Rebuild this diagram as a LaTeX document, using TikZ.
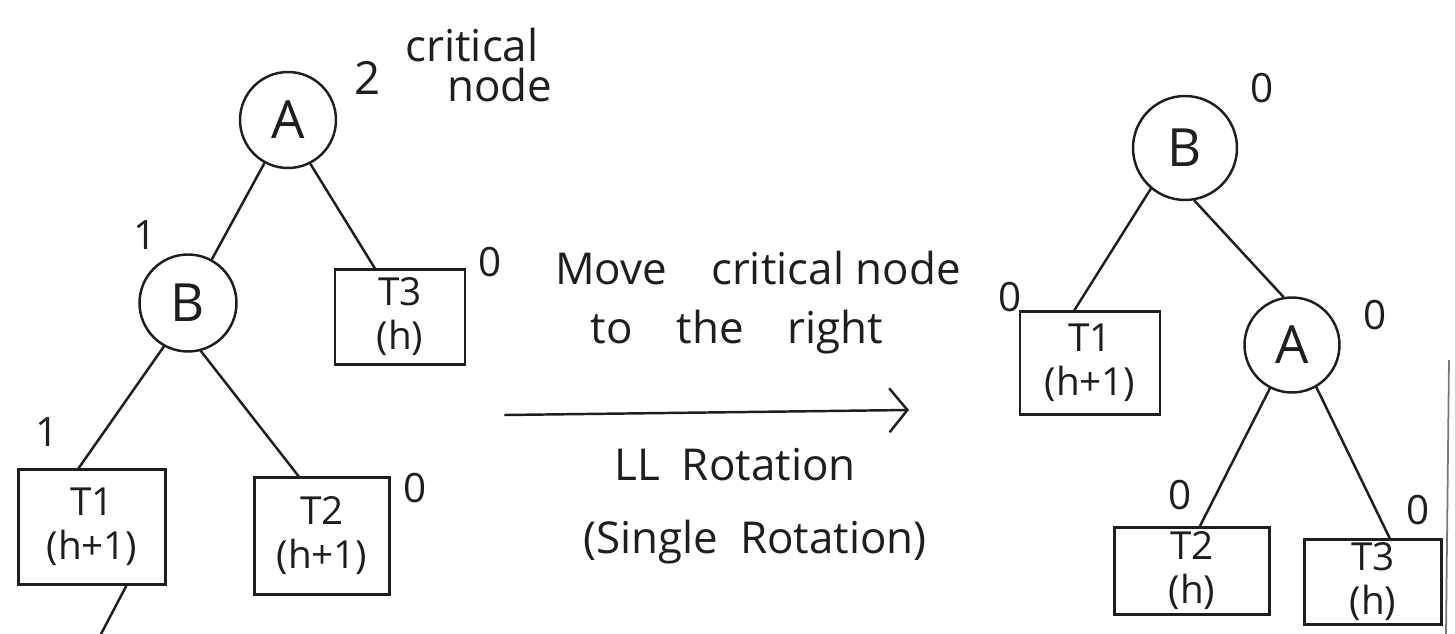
\documentclass[tikz,border=0pt]{standalone}
\usepackage{fontspec}
\setmainfont{Open Sans}
\usetikzlibrary{calc,arrows.meta}
\definecolor{ink}{HTML}{1E1E1E}
\tikzset{
  ink/.style={draw=ink, line width=1.4pt},
  circ/.style={ink, circle, inner sep=0pt, font=\fontsize{30}{32}\selectfont, text=ink},
  tbox/.style={ink, rectangle, inner sep=0pt, align=center, text=ink,
    font=\fontsize{22}{25}\selectfont},
  lbl/.style={inner sep=0pt, text=ink, font=\fontsize{23}{26}\selectfont},
  note/.style={inner sep=0pt, text=ink, align=center, font=\fontsize{25}{30}\selectfont},
  edge/.style={ink, line cap=round},
}
\begin{document}
\begin{tikzpicture}[x=0.02cm, y=-0.02cm]
\useasboundingbox[fill=white] (0,0) rectangle (1455,634);

% ---- left tree ----
\node[circ, minimum size=1.92cm] (A) at (288,120) {A};
\node[circ, minimum size=1.94cm] (B) at (188,303) {B};
\node[tbox, minimum width=2.6cm, minimum height=1.9cm] (T3) at (400,317) {T3\\(h)};
\node[tbox, minimum width=2.94cm, minimum height=2.3cm] (T1) at (92,527) {T1\\(h+1)};
\node[tbox, minimum width=2.7cm, minimum height=2.34cm] (T2) at (322,536) {T2\\(h+1)};

\draw[edge] (A) -- (B);
\draw[edge] (A.297) -- ($(T3.north west)!0.31!(T3.north east)$);
\draw[edge] (B.241) -- ($(T1.north west)!0.41!(T1.north east)$);
\draw[edge] (B.285) -- ($(T2.north west)!0.33!(T2.north east)$);
\coordinate (tailend) at (101,634);
\draw[edge] ($(T1.south west)!0.73!(T1.south east)$) -- (tailend);

\node[lbl, font=\fontsize{26}{30}\selectfont] (two) at (368,78) {2};
\node[note] (crit1) at (472,45) {critical};
\node[note] (crit2) at (500,85) {node};
\node[lbl] (oneB) at (145,235) {1};
\node[lbl] (oneT1) at (47,432) {1};
\node[lbl] (zT3) at (490,262) {0};
\node[lbl] (zT2) at (415,488) {0};

% ---- middle ----
\node[note] (mv1) at (758,268) {Move\quad critical node};
\node[note] (mv2) at (737,332) {to\quad the\quad right};
\coordinate (arrs) at (505,415);
\coordinate (arre) at (909,410);
\draw[edge, -{Straight Barb[length=3.6mm, width=8.8mm, line width=1.4pt]}] (arrs) -- (arre);
\node[note] (ll) at (735,465) {LL\enspace Rotation};
\node[note] (single) at (755,542) {(Single\enspace Rotation)};

% ---- right tree ----
\node[circ, minimum size=2.08cm] (RB) at (1185,148) {B};
\node[circ, minimum size=1.9cm] (RA) at (1292,345) {A};
\node[tbox, minimum width=2.8cm, minimum height=2.06cm] (RT1) at (1090,363) {T1\\(h+1)};
\node[tbox, minimum width=3.1cm, minimum height=1.74cm] (RT2) at (1192,571) {T2\\(h)};
\node[tbox, minimum width=2.74cm, minimum height=1.7cm] (RT3) at (1373,582) {T3\\(h)};

\draw[edge] (RB.230) -- ($(RT1.north west)!0.39!(RT1.north east)$);
\draw[edge] (RB.280) -- (RA.100);
\draw[edge] (RA.243) -- ($(RT2.north west)!0.55!(RT2.north east)$);
\draw[edge] (RA.300) -- ($(RT3.north west)!0.62!(RT3.north east)$);

\node[lbl] (zRB) at (1262,88) {0};
\node[lbl] (zRT1) at (1010,297) {0};
\node[lbl] (zRA) at (1375,315) {0};
\node[lbl] (zRT2) at (1180,495) {0};
\node[lbl] (zRT3) at (1418,510) {0};

% page edge stroke at the right
\coordinate (pe1) at (1449,360);
\coordinate (pe2) at (1446,634);
\draw[draw=ink!60, line width=1pt] (pe1) -- (pe2);
\end{tikzpicture}
\end{document}
